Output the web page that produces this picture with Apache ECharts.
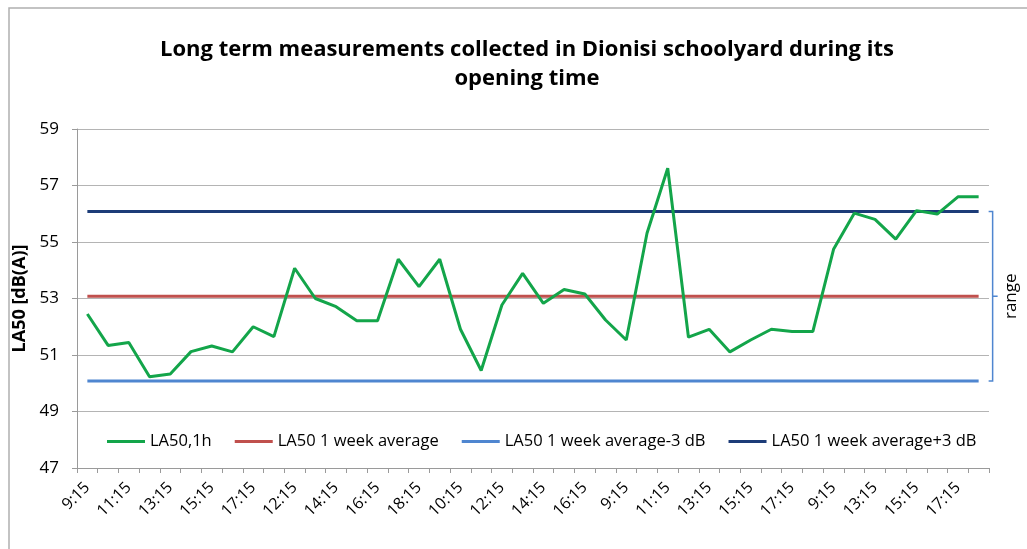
<!DOCTYPE html>
<html>
<head>
<meta charset="utf-8">
<style>
html,body{margin:0;padding:0;background:#fff;}
#chart{width:1027px;height:549px;}
</style>
<script src="https://cdn.jsdelivr.net/npm/echarts@6/dist/echarts.min.js"></script>
</head>
<body>
<div id="chart"></div>
<script>
// ---- data ----
const categories = [
  '9:15','10:15','11:15','12:15','13:15','14:15','15:15','16:15','17:15','18:15',
  '12:15','13:15','14:15','15:15','16:15','17:15','18:15','9:15','10:15','11:15',
  '12:15','13:15','14:15','15:15','16:15','17:15','9:15','10:15','11:15','12:15',
  '13:15','14:15','15:15','16:15','17:15','18:15','9:15','12:15','13:15','14:15',
  '15:15','16:15','17:15','18:15'
];
const la50Hourly = [
  52.45, 51.34, 51.44, 50.23, 50.33, 51.12, 51.32, 51.11, 52.0, 51.65,
  54.07, 53.0, 52.71, 52.21, 52.21, 54.39, 53.42, 54.39, 51.91, 50.45,
  52.77, 53.89, 52.83, 53.32, 53.16, 52.24, 51.53, 55.31, 57.61, 51.63,
  51.91, 51.11, 51.53, 51.91, 51.83, 51.83, 54.74, 56.02, 55.8, 55.1,
  56.11, 55.99, 56.6, 56.6
];
const weekAverage = 53.08;
const weekAverageMinus3 = 50.08;
const weekAveragePlus3 = 56.08;
const seriesNames = ['LA50,1h', 'LA50 1 week average', 'LA50 1 week average-3 dB', 'LA50 1 week average+3 dB'];
const yTicks = { min: 47, max: 59, interval: 2 };

const FONT = '"Open Sans", sans-serif';
const chart = echarts.init(document.getElementById('chart'));

const flat = v => categories.map(() => v);

const option = {
  backgroundColor: '#fff',
  animation: false,
  title: {
    text: 'Long term measurements collected in Dionisi schoolyard during its\nopening time',
    left: 522, top: 30, textAlign: 'center',
    textStyle: { fontFamily: FONT, fontSize: 22, fontWeight: 'bold', color: '#000', lineHeight: 29 }
  },
  legend: {
    left: 102, top: 428,
    icon: 'rect', itemWidth: 38, itemHeight: 3, itemGap: 23,
    textStyle: { fontFamily: FONT, fontSize: 16.5, color: '#000' },
    data: seriesNames
  },
  grid: { left: 77, right: 38, top: 129, bottom: 81, containLabel: false },
  xAxis: {
    type: 'category', data: categories, boundaryGap: true,
    axisLine: { lineStyle: { color: '#9a9a9a', width: 1 } },
    axisTick: { show: true, interval: 0, length: 5, lineStyle: { color: '#9a9a9a' } },
    axisLabel: { interval: 1, rotate: 45, margin: 17, fontFamily: FONT, fontSize: 16, color: '#000' },
    splitLine: { show: false }
  },
  yAxis: {
    type: 'value', min: yTicks.min, max: yTicks.max, interval: yTicks.interval,
    name: 'LA50 [dB(A)]', nameLocation: 'middle', nameGap: 45,
    nameTextStyle: { fontFamily: FONT, fontSize: 18, fontWeight: 'bold', color: '#000' },
    axisLine: { show: true, lineStyle: { color: '#9a9a9a', width: 1 } },
    axisTick: { show: true, length: 5, lineStyle: { color: '#9a9a9a' } },
    axisLabel: { margin: 18, fontFamily: FONT, fontSize: 17, color: '#000' },
    splitLine: { lineStyle: { color: '#b4b4b4', width: 1 } }
  },
  series: [
    { name: seriesNames[0], type: 'line', data: la50Hourly, symbol: 'none', z: 5,
      itemStyle: { color: '#13a54a' }, lineStyle: { color: '#13a54a', width: 3 } },
    { name: seriesNames[1], type: 'line', data: flat(weekAverage), symbol: 'none', z: 3,
      itemStyle: { color: '#c0504d' }, lineStyle: { color: '#c0504d', width: 3 } },
    { name: seriesNames[2], type: 'line', data: flat(weekAverageMinus3), symbol: 'none', z: 3,
      itemStyle: { color: '#4f86d0' }, lineStyle: { color: '#4f86d0', width: 3 } },
    { name: seriesNames[3], type: 'line', data: flat(weekAveragePlus3), symbol: 'none', z: 3,
      itemStyle: { color: '#1c3c78' }, lineStyle: { color: '#1c3c78', width: 3 } }
  ]
};
chart.setOption(option);

// range bracket + outer frame, positioned from the axis scale
const yTop = chart.convertToPixel({ yAxisIndex: 0 }, weekAveragePlus3);
const yBot = chart.convertToPixel({ yAxisIndex: 0 }, weekAverageMinus3);
const yMid = chart.convertToPixel({ yAxisIndex: 0 }, weekAverage);
const xEdge = chart.convertToPixel({ xAxisIndex: 0 }, categories.length - 1) + 10;
const bx = xEdge + 4;
const bracketStyle = { stroke: '#4f86d0', lineWidth: 1.5, fill: 'none' };
chart.setOption({
  graphic: [
    { type: 'polyline', silent: true, shape: { points: [[xEdge, yTop], [bx, yTop], [bx, yBot], [xEdge, yBot]] }, style: bracketStyle },
    { type: 'line', silent: true, shape: { x1: bx, y1: yMid, x2: bx + 5, y2: yMid }, style: bracketStyle },
    { type: 'text', silent: true, x: bx + 19, y: yMid, rotation: Math.PI / 2,
      style: { text: 'range', font: '17px ' + FONT, fill: '#000', align: 'center', verticalAlign: 'middle' } },
    { type: 'polyline', silent: true, shape: { points: [[9, 549], [9, 8], [1027, 8]] },
      style: { stroke: '#b0b0b0', lineWidth: 1.5, fill: 'none' } }
  ]
});
</script>
</body>
</html>
